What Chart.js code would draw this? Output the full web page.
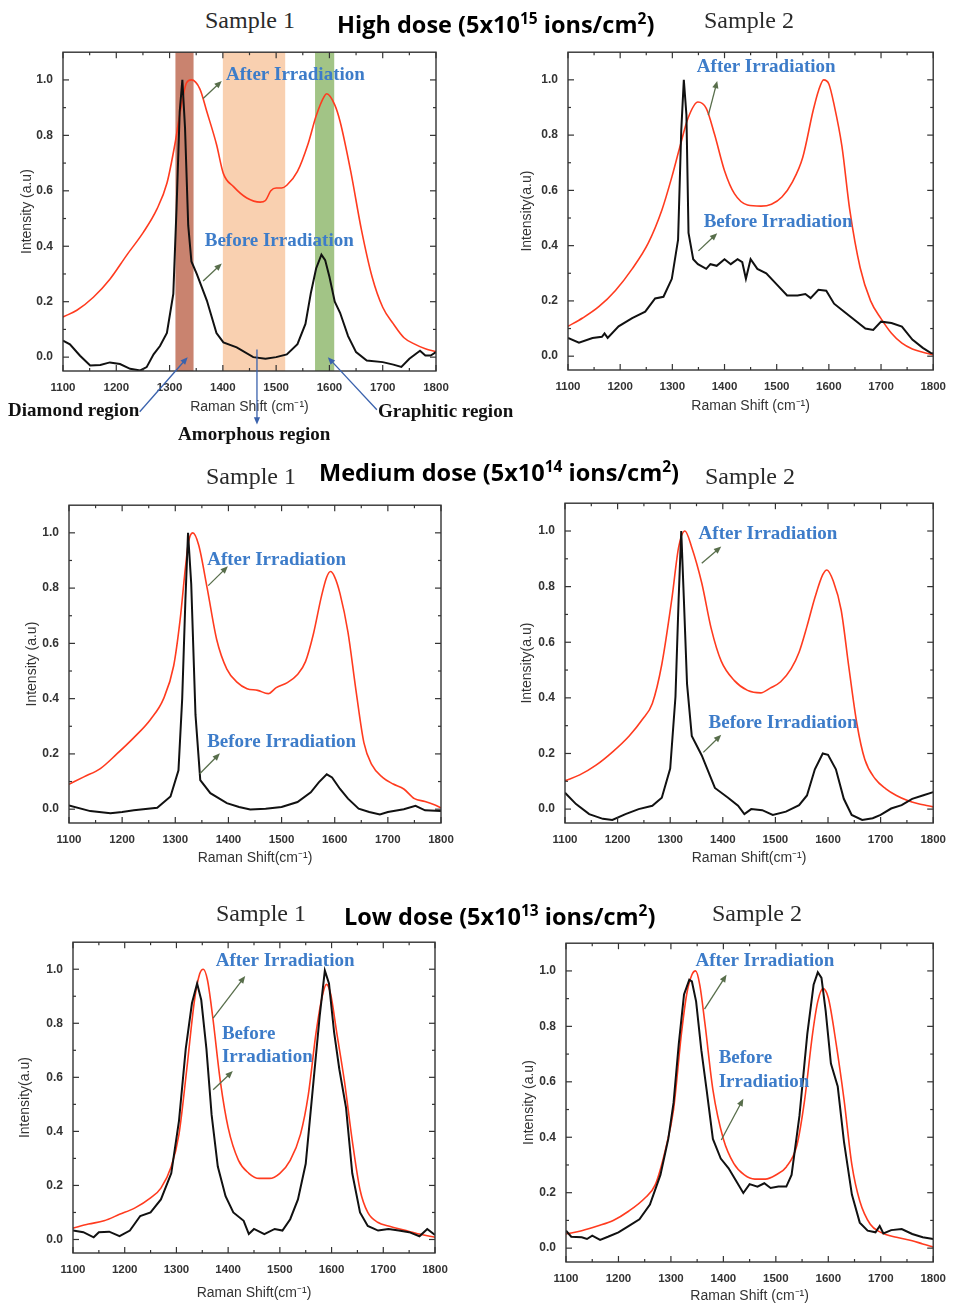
<!DOCTYPE html>
<html>
<head>
<meta charset="utf-8">
<script src="https://cdn.jsdelivr.net/npm/chart.js@4.4.0/dist/chart.umd.min.js"></script>
<style>
  html, body { margin: 0; padding: 0; background: #fff; width: 956px; height: 1308px; overflow: hidden; }
  canvas { position: absolute; }
  .label { position: absolute; white-space: nowrap; line-height: 1; z-index: 5; }
  .sample { font-family: 'Liberation Serif', 'Times New Roman', serif; font-size: 24px; line-height: 24px; color: #2a2a2a; }
  .dose { font-family: 'Open Sans', sans-serif; font-weight: 700; font-size: 23.5px; line-height: 23px; color: #000; }
  .dose sup { font-size: 0.66em; vertical-align: 0.55em; line-height: 0; }
</style>
</head>
<body>

<div class="label sample" style="left:205px; top:8px">Sample 1</div>
<div class="label dose" style="left:337px; top:13px">High dose (5x10<sup>15</sup> ions/cm<sup>2</sup>)</div>
<div class="label sample" style="left:704px; top:8px">Sample 2</div>

<div class="label sample" style="left:206px; top:464px">Sample 1</div>
<div class="label dose" style="left:319px; top:461px">Medium dose (5x10<sup>14</sup> ions/cm<sup>2</sup>)</div>
<div class="label sample" style="left:705px; top:464px">Sample 2</div>

<div class="label sample" style="left:216px; top:901px">Sample 1</div>
<div class="label dose" style="left:344px; top:905px">Low dose (5x10<sup>13</sup> ions/cm<sup>2</sup>)</div>
<div class="label sample" style="left:712px; top:901px">Sample 2</div>

<script>
// Axis ticks shared by all six panels
const xTickValues = [1100, 1200, 1300, 1400, 1500, 1600, 1700, 1800];
const yTickValues = [0, 0.2, 0.4, 0.6, 0.8, 1.0];
const xRange = [1100, 1800];
const yRange = [-0.05, 1.1];

// Spectra: [Raman shift, intensity]
const highS1After = [[1100,0.145],[1126,0.169],[1157,0.216],[1188,0.281],[1220,0.369],[1251,0.451],[1276,0.533],[1295,0.627],[1310,0.768],[1320,0.885],[1332,0.99],[1341,1.0],[1357,0.967],[1370,0.885],[1388,0.768],[1401,0.662],[1420,0.615],[1445,0.574],[1470,0.559],[1480,0.565],[1490,0.6],[1500,0.61],[1510,0.61],[1520,0.62],[1540,0.67],[1560,0.77],[1575,0.87],[1590,0.94],[1595,0.95],[1610,0.91],[1620,0.85],[1640,0.67],[1660,0.46],[1680,0.29],[1700,0.18],[1720,0.12],[1740,0.07],[1760,0.047],[1780,0.03],[1800,0.02]];
const highS1Before = [[1100,0.06],[1113,0.046],[1132,0.005],[1151,-0.03],[1170,-0.028],[1188,-0.019],[1207,-0.025],[1226,-0.042],[1245,-0.048],[1257,-0.036],[1270,0.01],[1282,0.04],[1295,0.087],[1307,0.228],[1313,0.533],[1319,0.885],[1324,1.0],[1329,0.827],[1335,0.475],[1341,0.345],[1351,0.3],[1370,0.204],[1388,0.087],[1401,0.053],[1426,0.035],[1457,0.0],[1480,-0.006],[1500,0.0],[1520,0.01],[1540,0.047],[1555,0.12],[1565,0.23],[1575,0.32],[1585,0.37],[1592,0.35],[1600,0.29],[1610,0.2],[1620,0.16],[1635,0.076],[1650,0.018],[1670,-0.012],[1700,-0.018],[1720,-0.027],[1735,-0.035],[1750,-0.006],[1770,0.023],[1780,0.006],[1790,0.006],[1800,0.018]];

const highS2After = [[1100,0.108],[1128,0.138],[1159,0.179],[1191,0.238],[1223,0.316],[1254,0.41],[1280,0.529],[1299,0.648],[1314,0.754],[1330,0.861],[1349,0.92],[1365,0.897],[1381,0.802],[1400,0.671],[1419,0.588],[1444,0.547],[1470,0.543],[1490,0.55],[1510,0.576],[1530,0.63],[1550,0.72],[1570,0.89],[1580,0.96],[1590,1.0],[1600,0.985],[1610,0.91],[1625,0.76],[1640,0.53],[1660,0.32],[1680,0.2],[1700,0.136],[1720,0.083],[1740,0.047],[1760,0.026],[1780,0.014],[1800,0.005]];
const highS2Before = [[1100,0.066],[1121,0.049],[1147,0.066],[1165,0.07],[1170,0.082],[1176,0.066],[1197,0.108],[1223,0.138],[1248,0.161],[1267,0.209],[1283,0.215],[1299,0.28],[1311,0.422],[1317,0.814],[1322,1.0],[1327,0.873],[1331,0.446],[1340,0.351],[1349,0.333],[1365,0.316],[1373,0.333],[1385,0.327],[1400,0.351],[1412,0.333],[1425,0.351],[1434,0.34],[1441,0.28],[1450,0.351],[1463,0.316],[1480,0.3],[1500,0.26],[1520,0.22],[1540,0.22],[1555,0.225],[1565,0.21],[1580,0.24],[1595,0.237],[1610,0.19],[1630,0.16],[1650,0.13],[1670,0.1],[1685,0.095],[1700,0.125],[1720,0.12],[1740,0.107],[1760,0.06],[1780,0.03],[1795,0.012],[1800,0.01]];

const medS1After = [[1100,0.09],[1128,0.117],[1159,0.147],[1190,0.2],[1222,0.259],[1253,0.324],[1278,0.4],[1297,0.519],[1309,0.684],[1319,0.873],[1325,0.968],[1333,1.0],[1344,0.956],[1360,0.8],[1378,0.613],[1397,0.507],[1416,0.46],[1435,0.436],[1455,0.43],[1475,0.418],[1490,0.44],[1510,0.457],[1530,0.487],[1545,0.534],[1560,0.635],[1575,0.77],[1585,0.84],[1592,0.86],[1600,0.84],[1610,0.78],[1625,0.64],[1640,0.43],[1655,0.24],[1670,0.16],[1690,0.115],[1710,0.091],[1730,0.073],[1750,0.038],[1770,0.028],[1790,0.014],[1800,0.005]];
const medS1Before = [[1100,0.013],[1140,-0.007],[1178,-0.015],[1200,-0.01],[1222,-0.004],[1266,0.005],[1291,0.046],[1306,0.141],[1313,0.4],[1319,0.755],[1324,1.0],[1330,0.815],[1338,0.342],[1347,0.105],[1366,0.058],[1397,0.022],[1420,0.008],[1441,-0.001],[1470,0.002],[1500,0.008],[1530,0.026],[1555,0.061],[1570,0.097],[1585,0.126],[1595,0.115],[1610,0.073],[1625,0.038],[1645,0.002],[1665,-0.01],[1685,-0.019],[1700,-0.01],[1730,0.0],[1752,0.012],[1770,-0.004],[1800,-0.007]];

const medS2After = [[1100,0.102],[1128,0.123],[1159,0.158],[1190,0.205],[1222,0.263],[1247,0.322],[1266,0.38],[1284,0.52],[1303,0.754],[1316,0.941],[1328,1.0],[1341,0.941],[1360,0.813],[1378,0.649],[1397,0.532],[1422,0.462],[1447,0.427],[1472,0.418],[1490,0.435],[1510,0.458],[1530,0.505],[1545,0.564],[1560,0.657],[1575,0.76],[1590,0.843],[1598,0.86],[1610,0.82],[1625,0.716],[1640,0.505],[1655,0.306],[1670,0.178],[1690,0.108],[1710,0.073],[1730,0.049],[1750,0.032],[1770,0.02],[1790,0.012],[1800,0.008]];
const medS2Before = [[1100,0.059],[1121,0.018],[1146,-0.018],[1172,-0.035],[1190,-0.039],[1215,-0.018],[1240,0.0],[1266,0.012],[1284,0.041],[1300,0.146],[1310,0.404],[1316,0.754],[1321,1.0],[1326,0.754],[1332,0.45],[1341,0.263],[1360,0.193],[1385,0.076],[1410,0.041],[1429,0.012],[1441,-0.018],[1454,0.0],[1475,-0.004],[1495,-0.021],[1520,-0.009],[1545,0.014],[1560,0.049],[1575,0.143],[1590,0.2],[1600,0.195],[1615,0.143],[1630,0.037],[1645,-0.021],[1665,-0.039],[1685,-0.033],[1700,-0.021],[1720,0.002],[1740,0.014],[1760,0.037],[1780,0.049],[1800,0.061]];

const lowS1After = [[1100,0.042],[1130,0.057],[1160,0.069],[1190,0.093],[1220,0.117],[1250,0.154],[1270,0.19],[1290,0.27],[1305,0.39],[1320,0.63],[1335,0.886],[1345,0.983],[1352,1.0],[1360,0.96],[1370,0.826],[1385,0.584],[1400,0.414],[1420,0.293],[1440,0.245],[1460,0.226],[1480,0.226],[1500,0.245],[1520,0.293],[1540,0.39],[1555,0.535],[1570,0.765],[1582,0.9],[1590,0.944],[1598,0.91],[1610,0.765],[1625,0.584],[1640,0.366],[1655,0.184],[1670,0.1],[1690,0.063],[1710,0.05],[1740,0.035],[1770,0.02],[1800,0.008]];
const lowS1Before = [[1100,0.033],[1120,0.027],[1140,0.008],[1150,0.027],[1170,0.029],[1190,0.012],[1210,0.033],[1230,0.087],[1250,0.1],[1270,0.148],[1290,0.245],[1305,0.44],[1318,0.705],[1330,0.874],[1340,0.947],[1348,0.886],[1358,0.705],[1368,0.462],[1380,0.27],[1395,0.16],[1410,0.1],[1430,0.069],[1440,0.02],[1450,0.039],[1470,0.02],[1490,0.039],[1505,0.033],[1520,0.075],[1535,0.148],[1550,0.28],[1565,0.584],[1577,0.826],[1587,0.995],[1595,0.947],[1605,0.765],[1615,0.63],[1628,0.487],[1640,0.245],[1655,0.1],[1670,0.05],[1690,0.033],[1710,0.039],[1730,0.033],[1750,0.027],[1770,0.012],[1785,0.039],[1800,0.017]];

const lowS2After = [[1100,0.051],[1130,0.063],[1160,0.08],[1190,0.1],[1220,0.134],[1250,0.18],[1270,0.228],[1290,0.359],[1305,0.5],[1320,0.773],[1330,0.915],[1340,0.986],[1347,1.0],[1355,0.95],[1365,0.808],[1380,0.572],[1400,0.394],[1420,0.305],[1440,0.264],[1460,0.249],[1480,0.249],[1500,0.264],[1520,0.293],[1540,0.37],[1555,0.536],[1570,0.773],[1580,0.89],[1590,0.936],[1600,0.903],[1615,0.737],[1630,0.536],[1645,0.3],[1660,0.17],[1680,0.086],[1700,0.057],[1730,0.039],[1760,0.027],[1780,0.015],[1800,0.004]];
const lowS2Before = [[1100,0.063],[1110,0.041],[1130,0.039],[1140,0.033],[1150,0.045],[1165,0.03],[1180,0.041],[1200,0.057],[1220,0.08],[1240,0.104],[1260,0.157],[1280,0.264],[1295,0.394],[1305,0.524],[1315,0.737],[1325,0.915],[1335,0.968],[1340,0.962],[1348,0.89],[1358,0.714],[1368,0.572],[1380,0.394],[1395,0.323],[1410,0.288],[1425,0.24],[1438,0.199],[1450,0.231],[1465,0.222],[1478,0.234],[1490,0.217],[1505,0.222],[1520,0.222],[1530,0.264],[1545,0.477],[1560,0.773],[1572,0.95],[1580,0.995],[1587,0.975],[1595,0.856],[1605,0.666],[1618,0.583],[1630,0.382],[1645,0.193],[1660,0.092],[1675,0.063],[1690,0.057],[1698,0.08],[1705,0.053],[1720,0.065],[1740,0.069],[1760,0.051],[1780,0.039],[1800,0.033]];

// Shaded regions on the high dose, sample 1 panel (Raman shift limits)
const highS1Bands = [
    { from: 1311, to: 1345, color: '#c9836f' },
    { from: 1400, to: 1517, color: '#f9d0b0' },
    { from: 1573, to: 1609, color: '#a2c486' }
];

const RED = '#ff3b1f';
const BLACK = '#111';
const NOTE_FONT = 'bold 19px "Liberation Serif", "Times New Roman", serif';
const NOTE_BLUE = '#3d7cc9';
const ARROW_GREEN = '#586e4b';
const ARROW_BLUE = '#3a62ad';

// Notes are placed in data coordinates (Raman shift, intensity)
const panels = [
    {
        box: [0, 35, 520, 420], plot: [63, 47, 436, 371],
        yTitle: 'Intensity (a.u)', yGap: 36, xTitle: 'Raman Shift (cm⁻¹)', xGap: 36,
        after: highS1After, before: highS1Before, bands: highS1Bands,
        notes: [
            { text: 'After Irradiation', at: [1406, 1.018] },
            { arrow: [1363, 0.933, 1398, 0.996] },
            { text: 'Before Irradiation', at: [1366, 0.419] },
            { arrow: [1363, 0.275, 1398, 0.338] },
            { text: 'Diamond region', at: [997, -0.194], color: '#111' },
            { arrow: [1244, -0.197, 1334, 0.0], color: ARROW_BLUE },
            { text: 'Amorphous region', at: [1316, -0.282], color: '#111' },
            { arrow: [1464, 0.028, 1464, -0.243], color: ARROW_BLUE },
            { text: 'Graphitic region', at: [1691, -0.2], color: '#111' },
            { arrow: [1689, -0.19, 1597, 0.0], color: ARROW_BLUE }
        ]
    },
    {
        box: [508, 35, 448, 390], plot: [568, 47, 937, 370],
        yTitle: 'Intensity(a.u)', yGap: 41, xTitle: 'Raman Shift (cm⁻¹)', xGap: 36,
        after: highS2After, before: highS2Before,
        notes: [
            { text: 'After Irradiation', at: [1347, 1.046] },
            { arrow: [1369, 0.872, 1386, 0.996] },
            { text: 'Before Irradiation', at: [1360, 0.484] },
            { arrow: [1350, 0.381, 1386, 0.445] }
        ]
    },
    {
        box: [0, 488, 470, 388], plot: [69, 500, 441, 823],
        yTitle: 'Intensity (a.u)', yGap: 37, xTitle: 'Raman Shift(cm⁻¹)', xGap: 35,
        after: medS1After, before: medS1Before,
        notes: [
            { text: 'After Irradiation', at: [1360, 0.901] },
            { arrow: [1362, 0.809, 1399, 0.879] },
            { text: 'Before Irradiation', at: [1360, 0.241] },
            { arrow: [1346, 0.128, 1384, 0.202] }
        ]
    },
    {
        box: [500, 486, 456, 390], plot: [565, 498, 937, 823],
        yTitle: 'Intensity(a.u)', yGap: 38, xTitle: 'Raman Shift(cm⁻¹)', xGap: 35,
        after: medS2After, before: medS2Before,
        notes: [
            { text: 'After Irradiation', at: [1354, 0.989] },
            { arrow: [1360, 0.884, 1397, 0.944] },
            { text: 'Before Irradiation', at: [1373, 0.309] },
            { arrow: [1363, 0.204, 1397, 0.267] }
        ]
    },
    {
        box: [0, 925, 470, 383], plot: [73, 937, 435, 1253],
        yTitle: 'Intensity(a.u)', yGap: 48, xTitle: 'Raman Shift(cm⁻¹)', xGap: 40,
        after: lowS1After, before: lowS1Before,
        notes: [
            { text: 'After Irradiation', at: [1376, 1.029] },
            { arrow: [1371, 0.819, 1433, 0.975] },
            { text: 'Before', at: [1388, 0.761] },
            { text: 'Irradiation', at: [1388, 0.674] },
            { arrow: [1371, 0.554, 1409, 0.623] }
        ]
    },
    {
        box: [500, 926, 456, 382], plot: [566, 938, 937, 1262],
        yTitle: 'Intensity (a.u)', yGap: 37, xTitle: 'Raman Shift (cm⁻¹)', xGap: 34,
        after: lowS2After, before: lowS2Before,
        notes: [
            { text: 'After Irradiation', at: [1347, 1.035] },
            { arrow: [1364, 0.862, 1406, 0.986] },
            { text: 'Before', at: [1391, 0.684] },
            { text: 'Irradiation', at: [1391, 0.599] },
            { arrow: [1396, 0.39, 1438, 0.539] }
        ]
    }
];

const TITLE_SIZE = 14;
const TITLE_HALF = TITLE_SIZE * 1.2 / 2;

Chart.defaults.font.family = '"Liberation Sans", Arial, sans-serif';
Chart.defaults.animation = false;

panels.forEach(createPanel);


function createPanel(panel) {
    const [bx, by, bw, bh] = panel.box;
    const [left, top, right, bottom] = panel.plot;
    const yWidth = panel.yGap + TITLE_HALF;
    const xHeight = panel.xGap + TITLE_HALF;

    const canvas = document.createElement('canvas');
    canvas.width = bw;
    canvas.height = bh;
    canvas.style.left = bx + 'px';
    canvas.style.top = by + 'px';
    canvas.style.width = bw + 'px';
    canvas.style.height = bh + 'px';
    document.body.appendChild(canvas);

    new Chart(canvas, {
        type: 'line',
        data: {
            datasets: [
                {
                    label: 'Before Irradiation',
                    data: toPoints(panel.before),
                    borderColor: BLACK,
                    borderWidth: 2,
                    pointRadius: 0,
                    tension: 0
                },
                {
                    label: 'After Irradiation',
                    data: toPoints(panel.after),
                    borderColor: RED,
                    borderWidth: 1.6,
                    pointRadius: 0,
                    cubicInterpolationMode: 'monotone'
                }
            ]
        },
        options: {
            responsive: false,
            devicePixelRatio: 1,
            layout: {
                autoPadding: false,
                padding: {
                    left: left - bx - yWidth,
                    top: top - by,
                    right: bx + bw - right,
                    bottom: by + bh - bottom - xHeight
                }
            },
            plugins: { legend: { display: false }, tooltip: { enabled: false } },
            scales: {
                x: {
                    type: 'linear',
                    min: xRange[0],
                    max: xRange[1],
                    afterBuildTicks: scale => { scale.ticks = xTickValues.map(value => ({ value })); },
                    afterFit: scale => { scale.height = xHeight; },
                    grid: { display: false, drawTicks: false },
                    border: { display: false },
                    ticks: { padding: 10, color: '#333', font: { size: 11.5, weight: 'bold' }, maxRotation: 0, callback: v => String(v) },
                    title: { display: true, text: panel.xTitle, color: '#333', padding: 0, font: { size: TITLE_SIZE } }
                },
                y: {
                    type: 'linear',
                    min: yRange[0],
                    max: yRange[1],
                    afterBuildTicks: scale => { scale.ticks = yTickValues.map(value => ({ value })); },
                    afterFit: scale => { scale.width = yWidth; },
                    grid: { display: false, drawTicks: false },
                    border: { display: false },
                    ticks: { padding: 10, color: '#333', font: { size: 12, weight: 'bold' }, callback: v => v.toFixed(1) },
                    title: { display: true, text: panel.yTitle, color: '#333', padding: 0, font: { size: TITLE_SIZE } }
                }
            }
        },
        plugins: [decorPlugin(panel)]
    });
}


// Util functions

function toPoints(pairs) {
    return pairs.map(([x, y]) => ({ x, y }));
}

function midpoints(values) {
    return values.slice(1).map((v, i) => (v + values[i]) / 2);
}

function decorPlugin(panel) {
    return {
        id: 'decor',
        beforeDatasetsDraw(chart) {
            const { ctx, chartArea: area, scales: { x } } = chart;
            ctx.save();
            (panel.bands || []).forEach(band => {
                const x0 = x.getPixelForValue(band.from);
                const x1 = x.getPixelForValue(band.to);
                ctx.fillStyle = band.color;
                ctx.fillRect(x0, area.top, x1 - x0, area.bottom - area.top);
            });
            ctx.restore();
        },
        afterDatasetsDraw(chart) {
            const { ctx, chartArea: area, scales: { x, y } } = chart;
            ctx.save();

            // box frame with inward ticks on every side
            ctx.strokeStyle = '#333';
            ctx.lineWidth = 1.4;
            ctx.strokeRect(area.left, area.top, area.right - area.left, area.bottom - area.top);
            ctx.lineWidth = 1.2;
            const drawXTicks = (values, len) => {
                values.forEach(v => {
                    const px = x.getPixelForValue(v);
                    line(ctx, px, area.bottom, px, area.bottom - len);
                    line(ctx, px, area.top, px, area.top + len);
                });
            };
            const drawYTicks = (values, len) => {
                values.forEach(v => {
                    const py = y.getPixelForValue(v);
                    line(ctx, area.left, py, area.left + len, py);
                    line(ctx, area.right, py, area.right - len, py);
                });
            };
            drawXTicks(xTickValues, 6);
            drawXTicks(midpoints(xTickValues), 3);
            drawYTicks(yTickValues, 6);
            drawYTicks(midpoints(yTickValues), 3);

            panel.notes.forEach(note => {
                if (note.arrow) {
                    const [x0, y0, x1, y1] = note.arrow;
                    arrow(ctx, x.getPixelForValue(x0), y.getPixelForValue(y0),
                        x.getPixelForValue(x1), y.getPixelForValue(y1), note.color || ARROW_GREEN);
                } else {
                    ctx.font = NOTE_FONT;
                    ctx.fillStyle = note.color || NOTE_BLUE;
                    ctx.textAlign = 'left';
                    ctx.textBaseline = 'middle';
                    ctx.fillText(note.text, x.getPixelForValue(note.at[0]), y.getPixelForValue(note.at[1]));
                }
            });
            ctx.restore();
        }
    };
}

function line(ctx, x0, y0, x1, y1) {
    ctx.beginPath();
    ctx.moveTo(x0, y0);
    ctx.lineTo(x1, y1);
    ctx.stroke();
}

function arrow(ctx, x0, y0, x1, y1, color) {
    const angle = Math.atan2(y1 - y0, x1 - x0);
    const head = 8;
    ctx.strokeStyle = color;
    ctx.fillStyle = color;
    ctx.lineWidth = 1.3;
    line(ctx, x0, y0, x1 - Math.cos(angle) * head * 0.6, y1 - Math.sin(angle) * head * 0.6);
    ctx.beginPath();
    ctx.moveTo(x1, y1);
    ctx.lineTo(x1 - head * Math.cos(angle - 0.4), y1 - head * Math.sin(angle - 0.4));
    ctx.lineTo(x1 - head * Math.cos(angle + 0.4), y1 - head * Math.sin(angle + 0.4));
    ctx.closePath();
    ctx.fill();
}
</script>
</body>
</html>
